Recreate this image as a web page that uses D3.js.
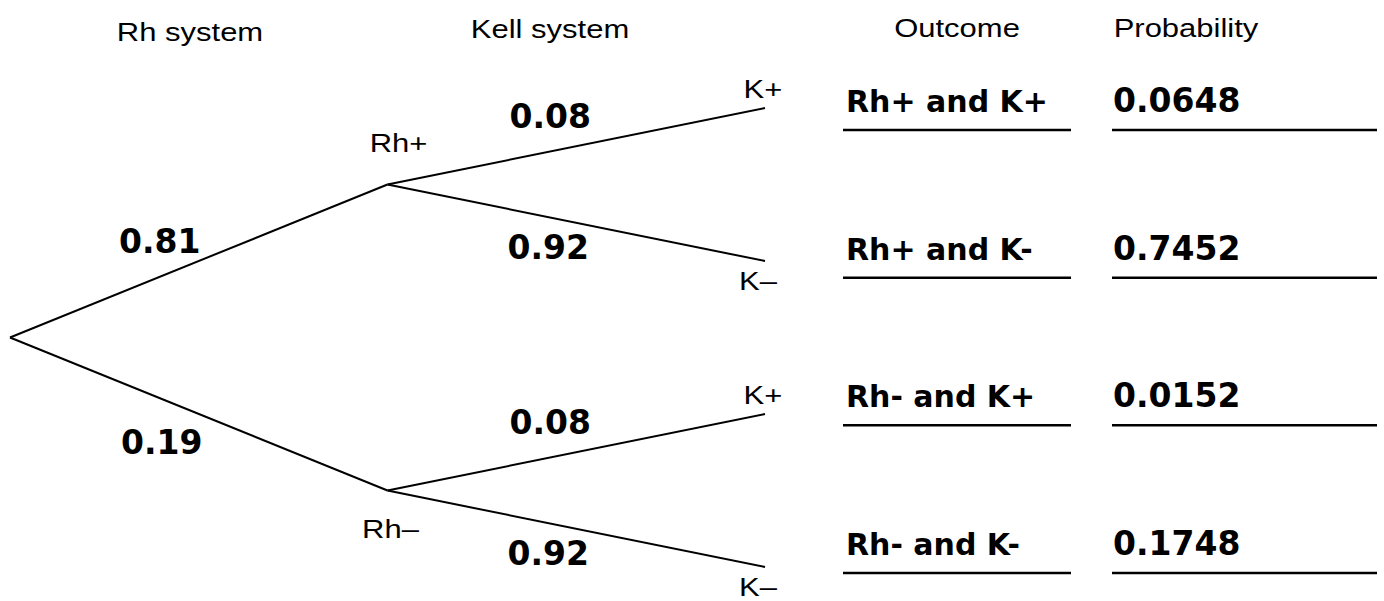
<!DOCTYPE html>
<html>
<head>
<meta charset="utf-8">
<script src="https://cdn.jsdelivr.net/npm/d3@7"></script>
<style>
  body { margin: 0; background: #fff; }
  svg { display: block; }
</style>
</head>
<body>
<svg id="chart"></svg>
<script>
// Probability tree: Rh system x Kell system

const headers = ['Rh system', 'Kell system', 'Outcome', 'Probability'];
const rhLevels = ['Rh+', 'Rh–'];
const rhProbs = [0.81, 0.19];
const kellLevels = ['K+', 'K–'];
const kellProbs = [0.08, 0.92];
const outcomes = ['Rh+ and K+', 'Rh+ and K-', 'Rh- and K+', 'Rh- and K-'];
const outcomeProbs = [0.0648, 0.7452, 0.0152, 0.1748];

const W = 1384, H = 601;
const svg = d3.select('#chart').attr('width', W).attr('height', H);

const boldFont = "'Comic Sans MS', 'DejaVu Sans', sans-serif";
const plainFont = "'Liberation Sans', Arial, sans-serif";
const plainStretch = 1.24; // plain labels in the picture are drawn wide

// stage 0 = root, 1 = Rh node, 2 = Kell leaf
const xStage = d3.scaleLinear().domain([0, 2]).range([10, 765]);
// leaf slots 0..3
const ySlot = d3.scaleLinear().domain([0, 3]).range([108, 567]);
// outcome rows (text baselines)
const yRow = d3.scaleLinear().domain([0, 3]).range([112, 555]);

// build tree nodes
const root = { stage: 0, slot: 1.5 };
const rhNodes = rhLevels.map((lab, i) => ({ stage: 1, slot: i * 2 + 0.5, label: lab, p: rhProbs[i], idx: i }));
const leaves = [];
rhNodes.forEach((rn, i) => {
  kellLevels.forEach((lab, j) => {
    leaves.push({ stage: 2, slot: i * 2 + j, label: lab, p: kellProbs[j], idx: j, parent: rn });
  });
});

const px = d => xStage(d.stage);
const py = d => ySlot(d.slot);

const branches = rhNodes.map(n => ({ from: root, to: n, idx: n.idx, p: n.p, level: 1 }))
  .concat(leaves.map(n => ({ from: n.parent, to: n, idx: n.idx, p: n.p, level: 2 })));

svg.append('g')
  .selectAll('line')
  .data(branches)
  .enter()
  .append('line')
  .attr('x1', d => px(d.from))
  .attr('y1', d => py(d.from))
  .attr('x2', d => px(d.to))
  .attr('y2', d => py(d.to))
  .attr('stroke', '#000')
  .attr('stroke-width', 2);

// branch probability labels
const labelOffset = {
  1: [{ dx: -39, dy: -8 }, { dx: -37, dy: 40 }],
  2: [{ dx: -26, dy: -18 }, { dx: -28, dy: 36 }]
};
svg.append('g')
  .selectAll('text')
  .data(branches)
  .enter()
  .append('text')
  .attr('x', d => (px(d.from) + px(d.to)) / 2 + labelOffset[d.level][d.idx].dx)
  .attr('y', d => (py(d.from) + py(d.to)) / 2 + labelOffset[d.level][d.idx].dy)
  .attr('text-anchor', 'middle')
  .attr('font-family', boldFont)
  .attr('font-weight', 'bold')
  .attr('font-size', '33px')
  .text(d => d.p.toFixed(2));

function plainText(sel, fx, fy) {
  return sel.append('text')
    .attr('transform', (d, i) => `translate(${fx(d, i)},${fy(d, i)}) scale(${plainStretch},1)`)
    .attr('text-anchor', 'middle')
    .attr('font-family', plainFont)
    .attr('font-size', '25px')
    .text(d => d.label || d);
}

// node labels
plainText(
  svg.append('g').selectAll('text').data(rhNodes).enter(),
  d => px(d) + (d.idx === 0 ? 11 : 3),
  d => py(d) + (d.idx === 0 ? -33 : 47)
);

plainText(
  svg.append('g').selectAll('text').data(leaves).enter(),
  d => px(d) + (d.idx === 0 ? -2 : -7),
  d => py(d) + (d.idx === 0 ? -10 : 29)
);

// column headers
const headerX = [190, 550, 957, 1186];
const headerY = [41, 38, 37, 37];
plainText(
  svg.append('g').selectAll('text').data(headers).enter(),
  (d, i) => headerX[i],
  (d, i) => headerY[i]
);

// outcome and probability columns
const rows = outcomes.map((o, i) => ({ outcome: o, prob: outcomeProbs[i], i }));
const outCol = { x1: 843, x2: 1071 };
const probCol = { x1: 1112, x2: 1377 };

const rowG = svg.append('g')
  .selectAll('g')
  .data(rows)
  .enter()
  .append('g')
  .attr('transform', d => `translate(0,${yRow(d.i)})`);

rowG.append('text')
  .attr('x', outCol.x1 + 3)
  .attr('font-family', boldFont)
  .attr('font-weight', 'bold')
  .attr('font-size', '30px')
  .text(d => d.outcome);

rowG.append('text')
  .attr('x', probCol.x1 + 1)
  .attr('font-family', boldFont)
  .attr('font-weight', 'bold')
  .attr('font-size', '33px')
  .text(d => d.prob.toFixed(4));

rowG.append('line')
  .attr('x1', outCol.x1).attr('x2', outCol.x2)
  .attr('y1', 18).attr('y2', 18)
  .attr('stroke', '#000').attr('stroke-width', 2.5);

rowG.append('line')
  .attr('x1', probCol.x1).attr('x2', probCol.x2)
  .attr('y1', 18).attr('y2', 18)
  .attr('stroke', '#000').attr('stroke-width', 2.5);
</script>
</body>
</html>
